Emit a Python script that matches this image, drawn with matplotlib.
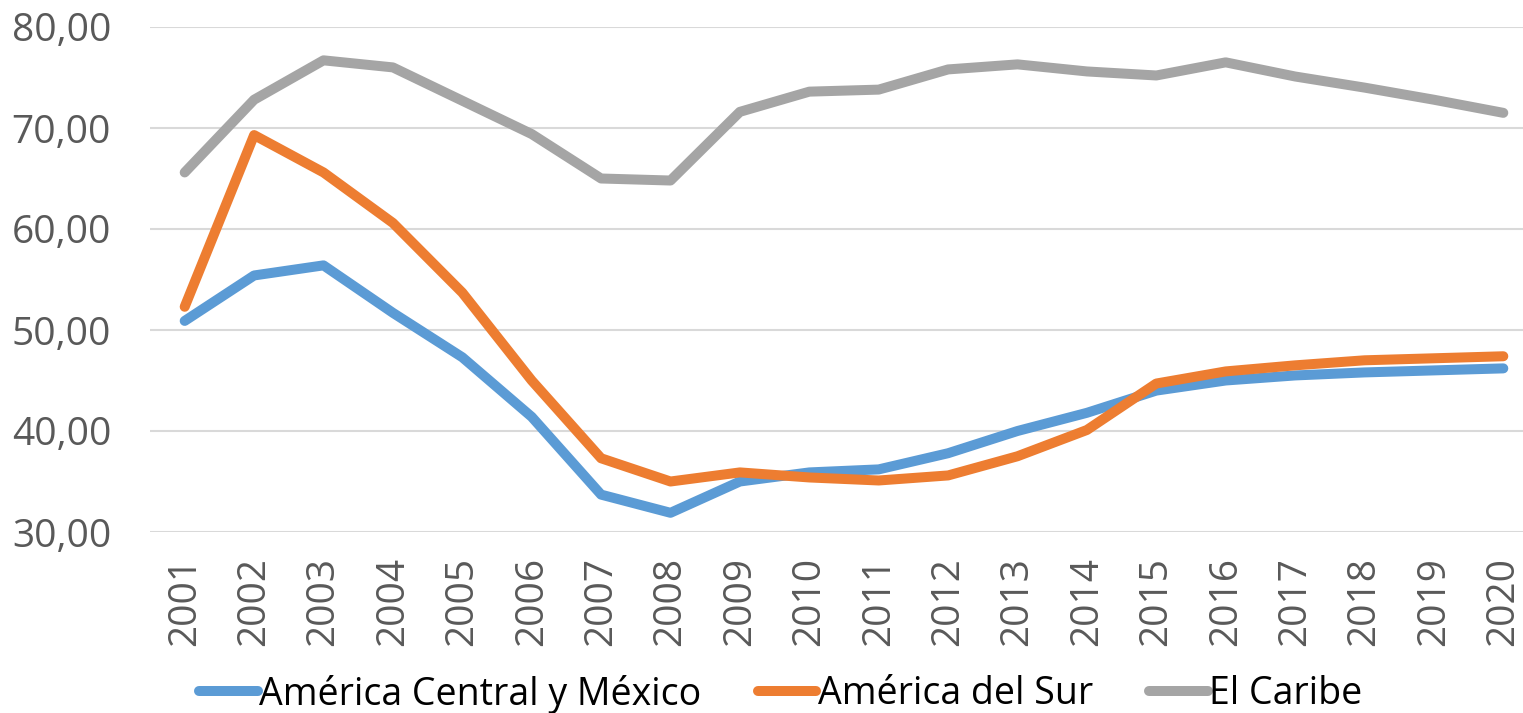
import matplotlib
matplotlib.use("Agg")
import matplotlib.pyplot as plt

years = list(range(2001, 2021))
central_mexico = [50.9, 55.4, 56.4, 51.7, 47.3, 41.4, 33.7, 31.9, 35.0, 35.9,
                  36.2, 37.8, 40.0, 41.8, 44.0, 45.0, 45.5, 45.8, 46.0, 46.2]
sur = [52.3, 69.3, 65.6, 60.6, 53.7, 45.0, 37.3, 35.0, 35.9, 35.4,
       35.1, 35.6, 37.5, 40.1, 44.7, 45.9, 46.5, 47.0, 47.2, 47.4]
caribe = [65.6, 72.8, 76.7, 76.0, 72.7, 69.4, 65.0, 64.8, 71.6, 73.6,
          73.8, 75.8, 76.3, 75.6, 75.2, 76.5, 75.1, 74.0, 72.8, 71.5]
labels = ["América Central y México", "América del Sur", "El Caribe"]
colors = ["#5B9BD5", "#ED7D31", "#A5A5A5"]

plt.rcParams["font.family"] = ["Open Sans", "DejaVu Sans"]

fig = plt.figure(figsize=(15.23, 7.13), dpi=100)
ax = fig.add_axes([150 / 1523, 1 - 532 / 713, 1388 / 1523, 505 / 713])

for vals, lab, col in zip([central_mexico, sur, caribe], labels, colors):
    ax.plot(years, vals, color=col, lw=7.2, label=lab,
            solid_capstyle="round", solid_joinstyle="round")

ax.set_xlim(2000.5, 2020.5)
ax.set_ylim(30, 80)
ax.set_yticks([30, 40, 50, 60, 70, 80])
ax.set_yticklabels([f"{v},00" for v in [30, 40, 50, 60, 70, 80]])
ax.set_xticks(years)
ax.set_xticklabels([str(y) for y in years], rotation=90)
ax.grid(axis="y", color="#D9D9D9", lw=1.5)
ax.set_axisbelow(True)
for s in ax.spines.values():
    s.set_visible(False)
ax.tick_params(axis="both", length=0, labelsize=28, colors="#595959")
ax.tick_params(axis="x", pad=18)
ax.tick_params(axis="y", pad=28)

leg = fig.legend(loc="center", bbox_to_anchor=(781 / 1523, 1 - 694 / 713), ncol=3,
                 frameon=False, fontsize=27, handlelength=1.55,
                 handletextpad=0.05, columnspacing=1.5)
for t in leg.get_texts():
    t.set_color("black")
for h in leg.legend_handles:
    h.set_linewidth(7.2)

fig.savefig("out.png", dpi=100)
